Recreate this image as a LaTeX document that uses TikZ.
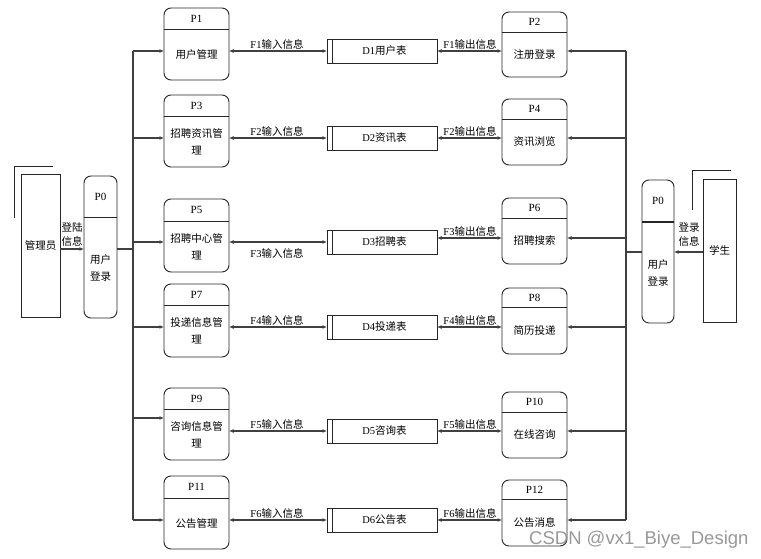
\documentclass[tikz,border=0pt]{standalone}
\usepackage{fontspec}
\setmainfont{Liberation Serif}
\newfontfamily\zhfont{Noto Sans CJK SC}
\newfontfamily\wmfont{Liberation Sans}
\newcommand\zh[1]{{\zhfont #1}}
\usetikzlibrary{arrows.meta}
% #1 name, #2 left x, #3 right x, #4 top, #5 bottom, #6 divider y, #7 id, #8 text
\newcommand\procbox[8]{%
  \node[procsty, minimum width={#3-#2}, minimum height={#5-#4}] (#1) at ({(#2+#3)/2},{(#4+#5)/2}) {};
  \draw[divsty] (#1.west |- 0,#6) -- (#1.east |- 0,#6);
  \node[idsty] (#1-id) at ({(#2+#3)/2},{(#4+#6)/2}) {#7};
  \node[txtsty] (#1-t) at ({(#2+#3)/2},{(#6+#5)/2}) {#8};
}
% #1 name, #2 center y, #3 text
\newcommand\storebox[3]{%
  \node[storesty] (#1) at (382,#2) {};
  \draw[divsty] ([xshift=5pt]#1.north west) -- ([xshift=5pt]#1.south west);
  \node[flabel] (#1-t) at ([xshift=2.5pt]#1.center) {#3};
}
\begin{document}
\begin{tikzpicture}[x=1pt,y=-1pt,
  procsty/.style={draw=black!85, line width=0.9pt, rounded corners=7pt, inner sep=0pt, outer sep=0pt},
  divsty/.style={draw=black!85, line width=0.9pt},
  idsty/.style={font=\fontsize{11}{12}\selectfont, inner sep=0pt},
  txtsty/.style={font=\fontsize{10.5}{17}\selectfont\zhfont, align=center, inner sep=0pt},
  storesty/.style={draw=black!85, line width=0.9pt, inner sep=0pt, outer sep=0pt, minimum width=110, minimum height=24},
  entsty/.style={draw=black!85, line width=0.9pt, inner sep=0pt, outer sep=0pt},
  flow/.style={draw=black!75, line width=1.1pt, -{Latex[length=4.5pt,width=4pt]}},
  bidir/.style={draw=black!75, line width=1.1pt, {Latex[length=4.5pt,width=4pt]}-{Latex[length=4.5pt,width=4pt]}},
  plain/.style={draw=black!75, line width=1.1pt},
  flabel/.style={font=\fontsize{10.5}{12}\selectfont, inner sep=0pt},
  wm/.style={font=\fontsize{18.5}{20}\selectfont\wmfont, text=black!40, inner sep=0pt}]
\fill[white] (0,0) rectangle (761,559);
\useasboundingbox (0,0) rectangle (761,559);

% external entities
\node[entsty, minimum width=39, minimum height=143] (adm) at (40.5,245.5) {};
\node[txtsty] (adm-t) at (adm.center) {管理员};
\draw[divsty] (14,218) -- (14,166) -- (53,166);
\node[entsty, minimum width=33, minimum height=143] (stu) at (719.5,250.5) {};
\node[txtsty] (stu-t) at (stu.center) {学生};
\draw[divsty] (692,210) -- (692,170) -- (731,170);

% P0 boxes
\procbox{p0l}{84}{117}{176}{318}{217}{P0}{用户\\登录}
\procbox{p0r}{642}{674}{180}{323}{222}{P0}{用户\\登录}
\draw[black!85, line width=1.6pt] (p0r.west |- 0,222) -- (p0r.east |- 0,222);

% login flows
\coordinate (la) at (0,249);
\coordinate (ra) at (0,252);
\draw[flow] (adm.east |- la) -- (p0l.west |- la);
\node[txtsty, font=\fontsize{10.5}{14}\selectfont\zhfont] (la-t) at (72,235) {登陆\\信息};
\draw[flow] (stu.west |- ra) -- (p0r.east |- ra);
\node[txtsty, font=\fontsize{10.5}{14}\selectfont\zhfont] (ra-t) at (689,235) {登录\\信息};

% process boxes left
\procbox{p1}{164}{229}{8}{80}{29}{P1}{用户管理}
\procbox{p3}{164}{229}{95}{167}{116}{P3}{招聘资讯管\\理}
\procbox{p5}{164}{229}{199}{272}{221}{P5}{招聘中心管\\理}
\procbox{p7}{164}{229}{284}{357}{305}{P7}{投递信息管\\理}
\procbox{p9}{164}{229}{388}{460}{409}{P9}{咨询信息管\\理}
\procbox{p11}{164}{229}{476}{549}{498}{P11}{公告管理}
% process boxes right
\procbox{p2}{502}{567}{12}{77}{32}{P2}{注册登录}
\procbox{p4}{502}{567}{99}{165}{119}{P4}{资讯浏览}
\procbox{p6}{502}{567}{198}{264}{218}{P6}{招聘搜索}
\procbox{p8}{502}{567}{288}{354}{307}{P8}{简历投递}
\procbox{p10}{502}{567}{392}{458}{412}{P10}{在线咨询}
\procbox{p12}{502}{567}{480}{546}{499}{P12}{公告消息}

% data stores
\storebox{d1}{51}{D1\zh{用户表}}
\storebox{d2}{138}{D2\zh{资讯表}}
\storebox{d3}{242}{D3\zh{招聘表}}
\storebox{d4}{327}{D4\zh{投递表}}
\storebox{d5}{431}{D5\zh{咨询表}}
\storebox{d6}{520}{D6\zh{公告表}}

% left bus
\coordinate (bl1) at (133,51);
\coordinate (bl3) at (133,138);
\coordinate (bl5) at (133,242);
\coordinate (bl7) at (133,327);
\coordinate (bl9) at (133,418);
\coordinate (bl11) at (133,520);
\coordinate (blj) at (133,249);
\draw[plain] (bl1) -- (bl11);
\draw[plain] (p0l.east |- blj) -- (blj);
\draw[flow] (bl1) -- (p1.west |- bl1);
\draw[flow] (bl3) -- (p3.west |- bl3);
\draw[flow] (bl5) -- (p5.west |- bl5);
\draw[flow] (bl7) -- (p7.west |- bl7);
\draw[flow] (bl9) -- (p9.west |- bl9);
\draw[flow] (bl11) -- (p11.west |- bl11);

% right bus
\coordinate (br2) at (626,51);
\coordinate (br4) at (626,138);
\coordinate (br6) at (626,238);
\coordinate (br8) at (626,327);
\coordinate (br10) at (626,431);
\coordinate (br12) at (626,520);
\coordinate (brj) at (626,252);
\draw[plain] (br2) -- (br12);
\draw[plain] (p0r.west |- brj) -- (brj);
\draw[flow] (br2) -- (p2.east |- br2);
\draw[flow] (br4) -- (p4.east |- br4);
\draw[flow] (br6) -- (p6.east |- br6);
\draw[flow] (br8) -- (p8.east |- br8);
\draw[flow] (br10) -- (p10.east |- br10);
\draw[flow] (br12) -- (p12.east |- br12);

% input flows
\coordinate (r1) at (0,51);
\coordinate (r2) at (0,138);
\coordinate (r3) at (0,242);
\coordinate (r3b) at (0,238);
\coordinate (r4) at (0,327);
\coordinate (r5) at (0,431);
\coordinate (r6) at (0,520);
\draw[bidir] (p1.east |- r1) -- (d1.west |- r1);
\draw[bidir] (p3.east |- r2) -- (d2.west |- r2);
\draw[bidir] (p5.east |- r3) -- (d3.west |- r3);
\draw[bidir] (p7.east |- r4) -- (d4.west |- r4);
\draw[bidir] (p9.east |- r5) -- (d5.west |- r5);
\draw[bidir] (p11.east |- r6) -- (d6.west |- r6);
\node[flabel, anchor=base] (f1i) at (277,48.5) {F1\zh{输入信息}};
\node[flabel, anchor=base] (f2i) at (277,135.5) {F2\zh{输入信息}};
\node[flabel, anchor=base] (f3i) at (277,257.5) {F3\zh{输入信息}};
\node[flabel, anchor=base] (f4i) at (277,324.5) {F4\zh{输入信息}};
\node[flabel, anchor=base] (f5i) at (277,428.5) {F5\zh{输入信息}};
\node[flabel, anchor=base] (f6i) at (277,517.5) {F6\zh{输入信息}};

% output flows
\draw[bidir] (d1.east |- r1) -- (p2.west |- r1);
\draw[bidir] (d2.east |- r2) -- (p4.west |- r2);
\draw[bidir] (d3.east |- r3b) -- (p6.west |- r3b);
\draw[bidir] (d4.east |- r4) -- (p8.west |- r4);
\draw[bidir] (d5.east |- r5) -- (p10.west |- r5);
\draw[bidir] (d6.east |- r6) -- (p12.west |- r6);
\node[flabel, anchor=base] (f1o) at (470,48.5) {F1\zh{输出信息}};
\node[flabel, anchor=base] (f2o) at (470,135.5) {F2\zh{输出信息}};
\node[flabel, anchor=base] (f3o) at (470,235.5) {F3\zh{输出信息}};
\node[flabel, anchor=base] (f4o) at (470,324.5) {F4\zh{输出信息}};
\node[flabel, anchor=base] (f5o) at (470,428.5) {F5\zh{输出信息}};
\node[flabel, anchor=base] (f6o) at (470,517.5) {F6\zh{输出信息}};

% watermark
\node[wm, anchor=west] (wmk) at (529,540) {CSDN @vx1\_Biye\_Design};
\end{tikzpicture}
\end{document}
